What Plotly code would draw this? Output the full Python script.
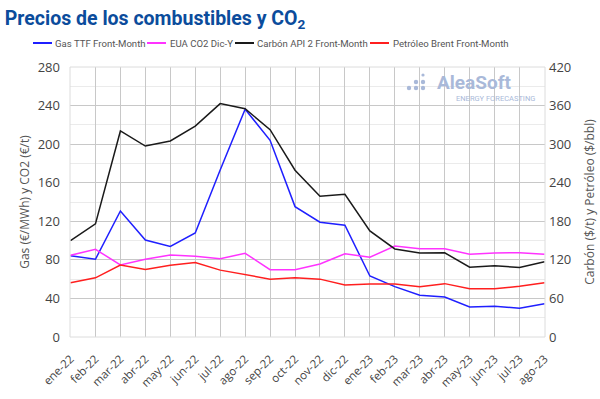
import plotly.graph_objects as go

months = ["ene-22","feb-22","mar-22","abr-22","may-22","jun-22","jul-22","ago-22","sep-22","oct-22","nov-22","dic-22",
          "ene-23","feb-23","mar-23","abr-23","may-23","jun-23","jul-23","ago-23"]
gas_ttf = [84.3,80.6,130.7,100.6,94,107.9,173.2,236.2,204,135.2,119,115.9,63.3,52.2,43.3,41.5,31.1,31.8,29.8,34.5]
eua_co2 = [84.7,91,74.7,80.6,85,83.7,81.2,86.8,69.8,69.8,75.7,86.4,82.7,94.4,91.6,91.6,85.8,87.1,87.5,85.8]
carbon_api2 = [150,176,320.5,297,305,328,363,355,322.5,259.5,219,222,165,137,130.5,131,108.5,111,108,117]
brent = [84.5,92,112,105,111.5,116,104,97,90,92,90,81,82.5,82.5,78,83,75,75,79,84.5]

series_names = ["Gas TTF Front-Month", "EUA CO2 Dic-Y", "Carbón API 2 Front-Month", "Petróleo Brent Front-Month"]
series_colors = ["#1f1fff", "#ff33ff", "#1a1a1a", "#ff1f1f"]

L, R, T, B = 70, 545, 67, 337
def px(X): return (X - L) / (R - L)
def py(Y): return (B - Y) / (B - T)

fig = go.Figure()
for name, vals, col, ax in zip(series_names, [gas_ttf, eua_co2, carbon_api2, brent], series_colors, ["y", "y", "y2", "y2"]):
    fig.add_trace(go.Scatter(x=months, y=vals, name=name, mode="lines",
                             line=dict(color=col, width=1.5), yaxis=ax, showlegend=False))

# manual legend (horizontal, compact)
legend_pos = [(33, 53), (147, 168), (235, 255), (370, 391)]
shapes = [dict(type="rect", xref="paper", yref="paper", x0=0, x1=1, y0=0, y1=1,
               line=dict(color="#dcdcdc", width=1))]
annotations = []
for (lx, tx), name, col in zip(legend_pos, series_names, series_colors):
    shapes.append(dict(type="line", xref="paper", yref="paper", x0=px(lx), x1=px(lx + 19), y0=py(43), y1=py(43),
                       line=dict(color=col, width=2)))
    annotations.append(dict(text=name, xref="paper", yref="paper", x=px(tx), y=py(43), xanchor="left", yanchor="middle",
                            showarrow=False, font=dict(size=9.6, color="#555", family="Roboto, sans-serif")))

# watermark logo
logo_col = "#a9b9d9"
dots = [(409, 88, 2.2), (416, 82, 2.2), (416, 88, 2.2), (423, 75, 1.6), (423, 82, 2.2), (423, 88, 2.2)]
for dx, dy, r in dots:
    shapes.append(dict(type="circle", xref="paper", yref="paper", x0=px(dx - r), x1=px(dx + r),
                       y0=py(dy + r), y1=py(dy - r), fillcolor=logo_col, line=dict(width=0)))
annotations.append(dict(text="<b>AleaSoft</b>", xref="paper", yref="paper", x=px(513), y=py(82), xanchor="right",
                        yanchor="middle", showarrow=False, font=dict(size=19, color=logo_col, family="Roboto, sans-serif")))
annotations.append(dict(text="ENERGY FORECASTING", xref="paper", yref="paper", x=px(537), y=py(98), xanchor="right",
                        yanchor="middle", showarrow=False, font=dict(size=7.5, color=logo_col, family="Roboto, sans-serif")))

fig.update_layout(
    width=600, height=399,
    margin=dict(l=L, r=600 - R, t=T, b=399 - B, autoexpand=False),
    paper_bgcolor="white", plot_bgcolor="white",
    font=dict(family="Open Sans, sans-serif", color="#444"),
    title=dict(text="<b>Precios de los combustibles y CO<sub>2</sub></b>", x=0.008, xanchor="left",
               y=0.955, yanchor="middle", font=dict(size=19.5, color="#0b4c9c", family="Roboto, sans-serif")),
    xaxis=dict(type="category", tickangle=-45, tickfont=dict(size=11.5, color="#444"), ticklabelstandoff=12,
               showgrid=True, gridcolor="#c8c8c8", gridwidth=1, range=[-0.02, 19.02],
               showline=False, zeroline=False, ticks=""),
    yaxis=dict(range=[0, 280], dtick=40, tickfont=dict(size=13, color="#444"), ticklabelstandoff=9,
               showgrid=True, gridcolor="#c8c8c8", gridwidth=1, zeroline=False,
               minor=dict(dtick=20, showgrid=True, gridcolor="#ebebeb"),
               title=dict(text="Gas (€/MWh) y CO2 (€/t)", font=dict(size=12, color="#555"), standoff=5)),
    yaxis2=dict(range=[0, 420], dtick=60, overlaying="y", side="right", showgrid=False, zeroline=False,
                tickfont=dict(size=13, color="#444"), ticklabelstandoff=3,
                title=dict(text="Carbón ($/t) y Petróleo ($/bbl)", font=dict(size=12, color="#555"), standoff=15)),
    shapes=shapes,
    annotations=annotations,
)

fig.write_html("out.html", config={"displayModeBar": False},
               post_script="document.body.style.margin='0px';document.body.style.overflow='hidden';")
